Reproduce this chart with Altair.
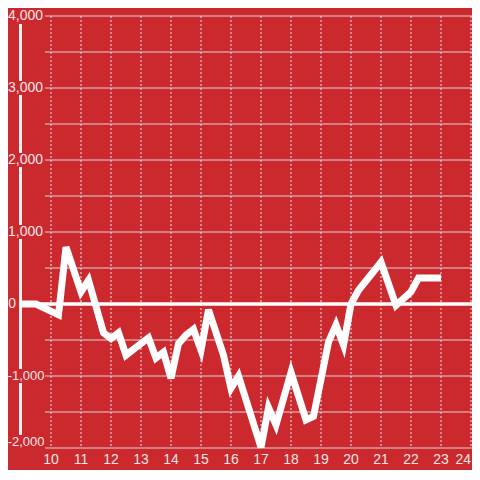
import altair as alt
import pandas as pd

# ---- data ----
hours = [9.0, 9.5, 10.25, 10.5, 11.0, 11.25, 11.75, 12.0, 12.25, 12.5, 13.25, 13.5,
         13.75, 14.0, 14.25, 14.5, 14.75, 15.0, 15.25, 15.75, 16.0, 16.25, 17.0,
         17.25, 17.5, 18.0, 18.5, 18.75, 19.25, 19.5, 19.75, 20.0, 20.25, 21.0,
         21.5, 22.0, 22.25, 23.0]
values = [0, 0, -150, 790, 170, 330, -400, -480, -400, -710, -470, -750,
          -670, -1030, -550, -430, -350, -640, -80, -710, -1170, -1000, -1990,
          -1440, -1680, -950, -1610, -1560, -530, -290, -570, 0, 190, 580,
          -20, 170, 360, 360]

y_grid = [-2000, -1500, -1000, -500, 0, 500, 1000, 1500, 2000, 2500, 3000, 3500, 4000]
y_label_values = [4000, 3000, 2000, 1000]
y_label_texts = ["4,000", "3,000", "2,000", "1,000"]
neg_label_values = [-1000]
neg_label_texts = ["-1,000"]
zero_label = ["0"]
bottom_label_value = [-2000]
bottom_label_text = ["-2,000"]
x_ticks = [10, 11, 12, 13, 14, 15, 16, 17, 18, 19, 20, 21, 22, 23]
last_x_tick = [24]

BG = "#cc292e"
LABEL = "#efe6e6"
W, H = 452, 432

xscale = alt.Scale(domain=[8.9667, 24.0333], nice=False, zero=False)
yscale = alt.Scale(domain=[-2000, 4000], nice=False, zero=False)

line_df = pd.DataFrame({"h": hours, "v": values})
grid_df = pd.DataFrame({"v": y_grid})
xt_df = pd.DataFrame({"h": x_ticks, "t": [str(t) for t in x_ticks]})
xl_df = pd.DataFrame({"h": last_x_tick, "t": [str(t) for t in last_x_tick]})
xall_df = pd.DataFrame({"h": x_ticks + last_x_tick})
yl_df = pd.DataFrame({"v": y_label_values, "t": y_label_texts})
neg_df = pd.DataFrame({"v": neg_label_values, "t": neg_label_texts})
zero_df = pd.DataFrame({"v": [0], "t": zero_label})
bot_df = pd.DataFrame({"v": bottom_label_value, "t": bottom_label_text})
bg_df = pd.DataFrame({"v": y_label_values + neg_label_values})

Y = lambda: alt.Y("v:Q", scale=yscale, axis=None)
X = lambda: alt.X("h:Q", scale=xscale, axis=None)

hgrid = alt.Chart(grid_df).mark_rule(color="#d6d6d6", strokeWidth=1).encode(
    y=Y(), x=alt.value(25), x2=alt.value(W)
)

vgrid = alt.Chart(xall_df).mark_rule(color="#e8e8e8", strokeWidth=1, strokeDash=[2, 2]).encode(
    x=X(), y=alt.value(0), y2=alt.value(H)
)

zero_line = alt.Chart(zero_df).mark_rule(color="white", strokeWidth=3.5).encode(
    y=Y(), x=alt.value(0), x2=alt.value(W)
)

vaxis = alt.Chart(zero_df).mark_rule(color="#f4f4f4", strokeWidth=3).encode(
    x=alt.value(0.5), y=alt.value(8), y2=alt.value(419)
)

label_bg = alt.Chart(bg_df).mark_square(color=BG, opacity=1, size=196, filled=True).encode(
    y=Y(), x=alt.value(0.5)
)

series = alt.Chart(line_df).mark_line(color="white", strokeWidth=7, strokeJoin="miter").encode(
    x=X(), y=Y()
)

font = dict(font="Liberation Sans", fontSize=14, color=LABEL)
font_neg = dict(font="Liberation Sans", fontSize=13, color=LABEL)

ylabels = alt.Chart(yl_df).mark_text(align="right", baseline="middle", **font).encode(
    y=Y(), x=alt.value(23), text="t:N"
)
nlabels = alt.Chart(neg_df).mark_text(align="right", baseline="middle", **font_neg).encode(
    y=Y(), x=alt.value(24.5), text="t:N"
)
zlabel = alt.Chart(zero_df).mark_text(align="right", baseline="middle", **font).encode(
    y=Y(), x=alt.value(-4), text="t:N"
)
blabel = alt.Chart(bot_df).mark_text(align="right", baseline="middle", dy=-6, **font_neg).encode(
    y=Y(), x=alt.value(24.5), text="t:N"
)
xlabels = alt.Chart(xt_df).mark_text(align="center", baseline="middle", **font).encode(
    x=X(), y=alt.value(444), text="t:N"
)
xlast = alt.Chart(xl_df).mark_text(align="right", baseline="middle", dx=0, **font).encode(
    x=X(), y=alt.value(444), text="t:N"
)

chart = alt.layer(
    hgrid, vgrid, zero_line, vaxis, label_bg, series,
    ylabels, nlabels, zlabel, blabel, xlabels, xlast
).properties(
    width=W, height=H,
    autosize=alt.AutoSizeParams(type="none"),
    padding={"left": 12, "top": 8, "right": 0, "bottom": 22},
    background=BG,
).configure_view(stroke=None)

chart.save("out.html", embed_options={"renderer": "svg", "actions": False})
